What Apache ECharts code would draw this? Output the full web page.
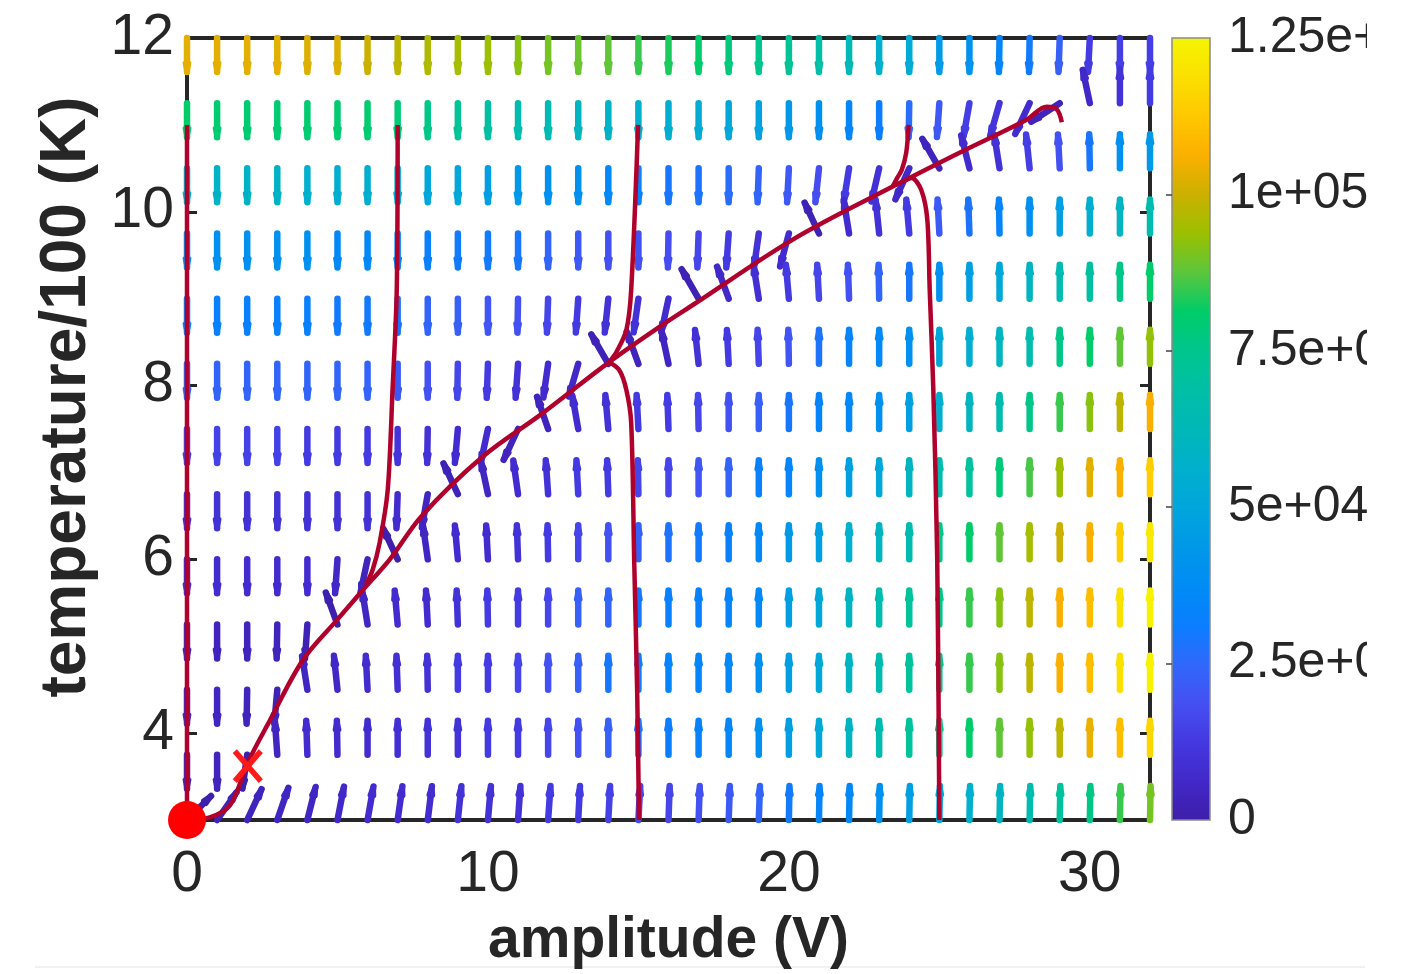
<!DOCTYPE html>
<html><head><meta charset="utf-8">
<script src="https://cdn.jsdelivr.net/npm/echarts@6.0.0/dist/echarts.min.js"></script>
<style>html,body{margin:0;padding:0;background:#fff}#chart{width:1423px;height:974px}</style>
</head><body><div id="chart"></div>
<script>
// ---- grid of the vector field ----
const amplitude = [0,1,2,3,4,5,6,7,8,9,10,11,12,13,14,15,16,17,18,19,20,21,22,23,24,25,26,27,28,29,30,31,32];
const temperature = [12,11.25,10.5,9.75,9,8.25,7.5,6.75,6,5.25,4.5,3.75,3];
// magnitude of each arrow, in units of 1e3 (rows follow `temperature`, columns follow `amplitude`)
const rateK = [
 [103,103,103,103,102,102,100,98,96,95,94,92,90,89,88,85,83,81,78,75,73,68,63,56,53,45,41,35,30,23,13,14,14],
 [81,80,80,80,80,80,80,79,76,73,70,66,64,60,58,56,55,53,51,48,44,40,35,31,26,21,14,11,8,4,6,10,13],
 [58,58,58,58,56,55,55,54,51,51,47,44,40,40,36,33,29,28,26,24,21,18,13,10,6,4,8,10,14,19,29,40,44],
 [40,40,40,40,40,36,36,35,32,30,30,29,24,21,19,19,18,16,13,10,8,3,8,10,13,21,28,34,40,47,55,60,66],
 [32,32,32,32,32,30,30,28,24,23,20,19,16,13,10,10,8,3,6,9,13,16,19,24,29,40,47,51,59,65,70,76,81],
 [24,24,24,24,24,24,24,21,19,16,13,10,8,6,3,4,5,10,13,16,20,28,34,36,40,51,55,60,66,76,81,88,93],
 [15,15,15,15,13,13,13,11,10,8,8,4,4,8,10,13,13,16,19,23,29,34,36,40,47,56,60,66,76,85,92,98,106],
 [10,10,10,10,10,10,10,8,5,3,5,8,10,13,13,16,16,20,24,32,34,40,47,51,60,66,71,79,86,94,103,106,114],
 [8,8,8,8,8,6,4,1,5,8,8,10,13,16,19,23,28,30,32,36,44,47,56,60,66,76,81,88,95,100,106,114,121],
 [5,4,4,4,3,1,5,8,8,10,13,13,16,23,24,29,32,32,34,36,47,51,60,66,71,76,85,92,98,106,110,119,124],
 [5,5,4,3,5,6,8,9,10,13,13,16,19,23,29,31,34,34,36,40,47,51,60,66,71,76,85,92,98,106,110,119,124],
 [4,4,1,5,8,8,8,9,10,10,13,13,16,19,23,28,31,33,35,40,47,51,60,66,71,76,81,88,93,98,104,110,116],
 [1,3,4,5,5,6,8,8,8,10,10,10,13,13,15,16,16,19,21,24,30,34,36,40,47,51,56,60,66,71,76,85,90]
];
// lean of each arrow in degrees (positive: head leans to larger amplitude)
const tiltDeg = [
 [0,0,0,0,0,0,0,0,0,0,0,0,0,0,0,0,0,0,0,0,0,0,0,0,0,0,0,-1,-1,-2,-3,0,0],
 [0,0,0,0,0,0,0,0,0,0,0,0,0,0,0,0,0,0,0,0,0,0,0,0,-1,-4,-10,-16,-25,-57,-12,0,0],
 [0,0,0,0,0,0,0,0,0,0,0,0,0,0,0,0,0,0,0,-2,-3,-6,-9,-13,-24,-30,-14,-9,-6,-3,-1,0,0],
 [0,0,0,0,0,0,0,0,0,0,0,0,0,0,0,0,-1,-2,-4,-8,-15,-25,-9,-6,-5,-3,-2,-1,0,0,0,0,0],
 [0,0,0,0,0,0,0,0,0,0,0,-1,-2,-4,-6,-8,-12,-30,-20,-9,-5,-3,-2,-1,0,0,0,0,0,0,0,0,0],
 [0,0,0,0,0,0,0,0,0,-1,-2,-4,-8,-16,-30,-20,-12,-6,-3,-2,-1,0,0,0,0,0,0,0,0,0,0,0,0],
 [0,0,0,0,0,0,0,0,-1,-5,-12,-25,-19,-10,-5,-3,-2,-1,0,0,0,0,0,0,0,0,0,0,0,0,0,0,0],
 [0,0,0,0,0,0,0,-2,-10,-25,-12,-8,-4,-3,-2,-1,0,0,0,0,0,0,0,0,0,0,0,0,0,0,0,0,0],
 [0,0,0,0,0,-4,-12,-25,-8,-5,-3,-2,-1,0,0,0,0,0,0,0,0,0,0,0,0,0,0,0,0,0,0,0,0],
 [0,0,0,-1,-4,-20,-9,-5,-3,-2,-1,0,0,0,0,0,0,0,0,0,0,0,0,0,0,0,0,0,0,0,0,0,0],
 [0,0,-1,-5,-9,-6,-3,-2,-1,0,0,0,0,0,0,0,0,0,0,0,0,0,0,0,0,0,0,0,0,0,0,0,0],
 [0,0,-8,-4,-2,-1,0,0,0,0,0,0,0,0,0,0,0,0,0,0,0,0,0,0,0,0,0,0,0,0,0,0,0],
 [45,35,25,19,14,11,10,8,7,6,5,4,4,3,3,3,2,2,2,2,1,1,1,1,1,1,1,1,1,1,1,1,1]
];
// first column (per row) from which arrows point upward; columns before it point downward
const firstUpCol = [33,30,25,21,17,14,12,9,7,5,4,3,0];

// ---- trajectories ----
const nullcline = [[0.03,3.0],[0.76,3.03],[1.43,3.17],[2.02,3.66],[2.76,4.15],[3.85,4.84],[4.98,5.30],[5.85,5.65],[6.74,6.0],[7.8,6.5],[9.82,7.18],[11.81,7.68],[14.03,8.27],[16.02,8.75],[16.82,8.93],[20.13,9.68],[23.45,10.29],[25.67,10.68],[27.9,11.06],[28.57,11.21],[28.9,11.18],[29.07,11.03]];
const trajA = [[0,11.0],[0,3.0]];
const trajB = [[7.0,11.0],[6.97,9.1],[6.83,7.95],[6.67,6.8],[6.4,6.19],[6.17,5.88],[5.95,5.71]];
const trajC = [[14.99,11.0],[14.76,9.1],[14.6,8.64],[14.26,8.38],[14.03,8.27]];
const trajD = [[15.02,3.0],[14.96,4.46],[14.86,5.99],[14.76,7.57],[14.6,7.95],[14.36,8.18],[14.03,8.27]];
const trajE = [[23.98,11.0],[23.9,10.68],[23.75,10.48],[23.6,10.39],[23.45,10.29]];
const trajF = [[25.0,3.0],[24.93,5.99],[24.8,7.95],[24.68,9.1],[24.6,9.91],[24.4,10.25],[24.08,10.39],[23.8,10.35]];
const stablePoint = [[0,3]];
const saddlePoint = [[2.02,3.62]];

// ---- ticks ----
const xTicks = [0,10,20,30];
const yTicks = [4,6,8,10,12];
const cbTicks = [0,25000,50000,75000,100000,125000];
const cbLabels = ['0','2.5e+04','5e+04','7.5e+04','1e+05','1.25e+05'];

const parula = ['#3c1ea8','#4228c8','#4438e0','#4550f2','#3068fa','#0a7eff','#008cf5','#0098e8','#00a6dc','#00b0cc','#00b8b8','#00bfa6','#00c68e','#00cc68','#5cc63c','#9cc000','#ccb000','#fcb000','#ffc800','#fbe000','#f5f500'];

const quiverData = [];
temperature.forEach((t, r) => {
  amplitude.forEach((a, c) => {
    quiverData.push([a, t, rateK[r][c] * 1000, tiltDeg[r][c], c >= firstUpCol[r] ? 1 : -1]);
  });
});

const FONT = 'Liberation Sans, Arial, Helvetica, sans-serif';
const INK = '#262626';
const TRAJ = '#b0002c';

function trajSeries(data, smooth) {
  return { type: 'line', data: data, xAxisIndex: 0, yAxisIndex: 0, symbol: 'none', smooth: smooth || 0,
    clip: false, silent: true, z: 4, lineStyle: { color: TRAJ, width: 4.5 } };
}

const chart = echarts.init(document.getElementById('chart'), null, { renderer: 'canvas' });
const option = {
  animation: false,
  backgroundColor: '#ffffff',
  textStyle: { fontFamily: FONT },
  grid: [
    { left: 187, top: 38, width: 963, height: 782, containLabel: false, outerBoundsMode: 'none' },
    { left: 1172, top: 38, width: 38, height: 782, containLabel: false, outerBoundsMode: 'none' }
  ],
  xAxis: [
    { gridIndex: 0, type: 'value', min: 0, max: 32, position: 'bottom',
      axisLine: { show: true, onZero: false, lineStyle: { color: INK, width: 4 } },
      axisTick: { show: true, inside: true, length: 10, customValues: xTicks, lineStyle: { color: INK, width: 3 } },
      axisLabel: { show: true, customValues: xTicks, fontSize: 57, color: INK, margin: 27, fontFamily: FONT },
      splitLine: { show: false },
      name: 'amplitude (V)', nameLocation: 'middle', nameGap: 93,
      nameTextStyle: { fontSize: 57, fontWeight: 'bold', color: INK, fontFamily: FONT } },
    { gridIndex: 0, type: 'value', min: 0, max: 32, position: 'top',
      axisLine: { show: true, onZero: false, lineStyle: { color: INK, width: 4 } },
      axisTick: { show: true, inside: true, length: 10, customValues: xTicks, lineStyle: { color: INK, width: 3 } },
      axisLabel: { show: false }, splitLine: { show: false } },
    { gridIndex: 1, type: 'value', min: 0, max: 1, show: false }
  ],
  yAxis: [
    { gridIndex: 0, type: 'value', min: 3, max: 12, position: 'left',
      axisLine: { show: true, onZero: false, lineStyle: { color: INK, width: 4 } },
      axisTick: { show: true, inside: true, length: 10, customValues: yTicks, lineStyle: { color: INK, width: 3 } },
      axisLabel: { show: true, customValues: yTicks, fontSize: 57, color: INK, margin: 13, fontFamily: FONT },
      splitLine: { show: false },
      name: 'temperature/100 (K)', nameLocation: 'middle', nameGap: 86, nameRotate: 90,
      nameTextStyle: { fontSize: 64, fontWeight: 'bold', color: INK, fontFamily: FONT, padding: [0, 0, 0, 64] } },
    { gridIndex: 0, type: 'value', min: 3, max: 12, position: 'right',
      axisLine: { show: true, onZero: false, lineStyle: { color: INK, width: 4 } },
      axisTick: { show: true, inside: true, length: 10, customValues: yTicks, lineStyle: { color: INK, width: 3 } },
      axisLabel: { show: false }, splitLine: { show: false } },
    { gridIndex: 1, type: 'value', min: 0, max: 125000, position: 'right', z: 10,
      axisLine: { show: false },
      axisTick: { show: true, inside: true, length: 6, customValues: cbTicks.slice(1, -1), lineStyle: { color: '#444', width: 1.5 } },
      axisLabel: { show: true, customValues: cbTicks, fontSize: 50, color: INK, margin: 18, fontFamily: FONT,
        formatter: function (v) { const i = cbTicks.indexOf(v); return i >= 0 ? cbLabels[i] : ''; } },
      splitLine: { show: false } }
  ],
  visualMap: [{ type: 'continuous', show: false, min: 0, max: 125000, dimension: 2, seriesIndex: 0,
    inRange: { color: parula } }],
  series: [
    { type: 'custom', name: 'field', xAxisIndex: 0, yAxisIndex: 0, clip: false, silent: true, z: 2,
      data: quiverData,
      renderItem: function (params, api) {
        const p = api.coord([api.value(0), api.value(1)]);
        const th = api.value(3) * Math.PI / 180;
        const dir = api.value(4);
        const ux = Math.sin(th), uy = -dir * Math.cos(th);
        const L = 34;
        const tip = [p[0] + L * ux, p[1] + L * uy];
        const hl = 9, ha = 12 * Math.PI / 180;
        const bx = -ux, by = -uy;
        const b1 = [tip[0] + hl * (bx * Math.cos(ha) - by * Math.sin(ha)), tip[1] + hl * (bx * Math.sin(ha) + by * Math.cos(ha))];
        const b2 = [tip[0] + hl * (bx * Math.cos(-ha) - by * Math.sin(-ha)), tip[1] + hl * (bx * Math.sin(-ha) + by * Math.cos(-ha))];
        const color = api.visual('color');
        return { type: 'group', children: [
          { type: 'line', shape: { x1: p[0], y1: p[1], x2: tip[0], y2: tip[1] },
            style: { stroke: color, lineWidth: 6.5, lineCap: 'round' } },
          { type: 'polyline', shape: { points: [b1, tip, b2] },
            style: { stroke: color, fill: null, lineWidth: 5, lineCap: 'round', lineJoin: 'round' } }
        ] };
      } },
    trajSeries(trajA),
    trajSeries(trajB, 0.3),
    trajSeries(trajC, 0.3),
    trajSeries(trajD, 0.3),
    trajSeries(trajE, 0.3),
    trajSeries(trajF, 0.3),
    trajSeries(nullcline, 0.35),
    { type: 'scatter', data: stablePoint, xAxisIndex: 0, yAxisIndex: 0, symbol: 'circle', symbolSize: 38,
      clip: false, silent: true, z: 6, itemStyle: { color: '#ff0000', opacity: 1 } },
    { type: 'custom', data: saddlePoint, xAxisIndex: 0, yAxisIndex: 0, clip: false, silent: true, z: 6,
      renderItem: function (params, api) {
        const p = api.coord([api.value(0), api.value(1)]);
        const sx = 13, sy = 15;
        const st = { stroke: '#ff1a1a', lineWidth: 5.5, lineCap: 'butt' };
        return { type: 'group', children: [
          { type: 'line', shape: { x1: p[0] - sx, y1: p[1] - sy, x2: p[0] + sx, y2: p[1] + sy }, style: st },
          { type: 'line', shape: { x1: p[0] - sx, y1: p[1] + sy, x2: p[0] + sx, y2: p[1] - sy }, style: st }
        ] };
      } },
    { type: 'custom', data: [[0, 0, 1, 125000]], xAxisIndex: 2, yAxisIndex: 2, silent: true, z: 2,
      renderItem: function (params, api) {
        const p0 = api.coord([api.value(0), api.value(1)]);
        const p1 = api.coord([api.value(2), api.value(3)]);
        const stops = parula.map(function (c, i) { return { offset: i / (parula.length - 1), color: c }; });
        return { type: 'rect', shape: { x: p0[0], y: p1[1], width: p1[0] - p0[0], height: p0[1] - p1[1] },
          style: { fill: new echarts.graphic.LinearGradient(0, 1, 0, 0, stops), stroke: '#8a8a8a', lineWidth: 1.5 } };
      } }
  ],
  graphic: [
    { type: 'rect', left: 1367, top: 0, z: 100, shape: { width: 56, height: 974 }, style: { fill: '#ffffff' } },
    { type: 'line', z: -10, shape: { x1: 35, y1: 967, x2: 1365, y2: 967 }, style: { stroke: '#ececec', lineWidth: 1.5 } }
  ]
};
chart.setOption(option);
</script></body></html>
